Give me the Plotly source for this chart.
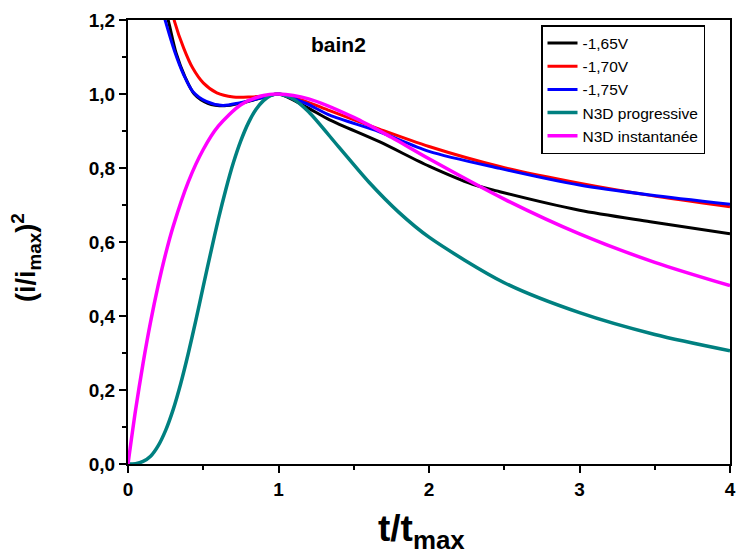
import plotly.graph_objects as go

# ---- data ----
t_165 = [0.24, 0.27, 0.32, 0.38, 0.44, 0.53, 0.64, 0.75, 0.88, 1.0, 1.18, 1.34, 1.67, 2.0, 2.29, 2.47, 3.0, 3.47, 4.0]
v_165 = [1.24, 1.195, 1.11, 1.045, 1.0, 0.975, 0.968, 0.975, 0.989, 1.0, 0.966, 0.930, 0.871, 0.805, 0.756, 0.736, 0.686, 0.655, 0.622]

t_170 = [0.28, 0.31, 0.37, 0.43, 0.50, 0.59, 0.70, 0.81, 0.92, 1.0, 1.18, 1.34, 1.67, 2.0, 2.47, 3.0, 3.47, 4.0]
v_170 = [1.25, 1.195, 1.124, 1.070, 1.03, 1.003, 0.992, 0.992, 0.995, 1.0, 0.98, 0.955, 0.905, 0.858, 0.804, 0.759, 0.726, 0.695]

t_175 = [0.22, 0.25, 0.31, 0.37, 0.43, 0.52, 0.63, 0.74, 0.88, 1.0, 1.18, 1.34, 1.67, 2.0, 2.47, 3.0, 3.47, 4.0]
v_175 = [1.24, 1.195, 1.115, 1.052, 1.007, 0.980, 0.969, 0.976, 0.989, 1.0, 0.975, 0.943, 0.898, 0.845, 0.799, 0.754, 0.727, 0.702]

t_prog = [0, 0.05, 0.1, 0.15, 0.2, 0.25, 0.3, 0.35, 0.4, 0.45, 0.5, 0.55, 0.6, 0.65, 0.7, 0.75, 0.8,
          0.85, 0.9, 0.95, 1.0, 1.1, 1.2, 1.4, 1.6, 1.8, 2.0, 2.5, 3.0, 3.5, 4.0]
v_prog = [0, 0.001, 0.007, 0.021, 0.049, 0.091, 0.147, 0.217, 0.298, 0.387, 0.480, 0.572, 0.661, 0.742,
          0.814, 0.874, 0.922, 0.958, 0.982, 0.996, 1.0, 0.986, 0.952, 0.857, 0.762, 0.680, 0.613,
          0.490, 0.409, 0.350, 0.306]

t_inst = [0, 0.05, 0.1, 0.15, 0.2, 0.25, 0.3, 0.4, 0.5, 0.6, 0.75, 0.9, 1.0, 1.2, 1.5, 1.75, 2.0, 2.5, 3.0, 3.5, 4.0]
v_inst = [0, 0.145, 0.272, 0.384, 0.482, 0.568, 0.642, 0.762, 0.850, 0.913, 0.971, 0.996, 1.0, 0.987,
          0.937, 0.883, 0.825, 0.716, 0.622, 0.545, 0.482]

names = ["-1,65V", "-1,70V", "-1,75V", "N3D progressive", "N3D instantanée"]
colors = ["#000000", "#ff0000", "#0000ff", "#008080", "#ff00ff"]
widths = [3, 3, 3, 3.5, 3.5]

FONT = "Liberation Sans, Arial, sans-serif"

fig = go.Figure()
series = [(t_165, v_165), (t_170, v_170), (t_175, v_175), (t_prog, v_prog), (t_inst, v_inst)]
for (tx, vy), nm, c, w in zip(series, names, colors, widths):
    fig.add_trace(go.Scatter(x=tx, y=vy, name=nm, mode="lines",
                             line=dict(color=c, width=w, shape="spline", smoothing=0.8)))

axis_common = dict(showline=True, linecolor="black", linewidth=2, mirror=True,
                   ticks="outside", tickwidth=2, ticklen=7, tickcolor="black",
                   showgrid=False, zeroline=False, automargin=False,
                   tickfont=dict(family=FONT, size=19, color="black", weight="bold"))

fig.update_xaxes(range=[0, 4], dtick=1, tick0=0,
                 minor=dict(dtick=0.5, ticks="outside", ticklen=4, tickwidth=2, tickcolor="black"),
                 **axis_common)
fig.update_yaxes(range=[0, 1.2], dtick=0.2, tick0=0, tickformat=".1f",
                 minor=dict(dtick=0.1, ticks="outside", ticklen=4, tickwidth=2, tickcolor="black"),
                 **axis_common)

fig.add_annotation(text="<b>bain2</b>", xref="paper", yref="paper",
                   x=(338 - 128) / 602, y=(464 - 44) / 444, showarrow=False,
                   xanchor="center", yanchor="middle",
                   font=dict(family=FONT, size=21, color="black"))
fig.add_annotation(text="<b>t/t<sub>max</sub></b>", xref="paper", yref="paper",
                   x=(421 - 128) / 602, y=(464 - 531) / 444, showarrow=False,
                   xanchor="center", yanchor="middle",
                   font=dict(family=FONT, size=37, color="black"))
fig.add_annotation(text="<b>(i/i<sub>max</sub>)<sup>2</sup></b>", xref="paper", yref="paper",
                   x=(26 - 128) / 602, y=(464 - 258) / 444, showarrow=False, textangle=-90,
                   xanchor="center", yanchor="middle",
                   font=dict(family=FONT, size=27, color="black"))

fig.update_layout(
    width=736, height=560,
    margin=dict(l=128, r=6, t=20, b=96, autoexpand=False),
    paper_bgcolor="white", plot_bgcolor="white",
    separators=",.",
    font=dict(family=FONT, color="black"),
    showlegend=True,
    legend=dict(x=(541 - 128) / 602, y=(464 - 25) / 444, xanchor="left", yanchor="top",
                bgcolor="white", bordercolor="black", borderwidth=1.5,
                font=dict(family=FONT, size=15.5, color="black"),
                tracegroupgap=0),
)

fig.write_html("out.html")
